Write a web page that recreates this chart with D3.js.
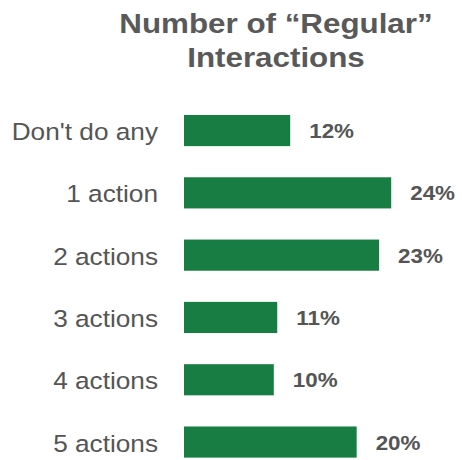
<!DOCTYPE html>
<html>
<head>
<meta charset="utf-8">
<script src="https://cdn.jsdelivr.net/npm/d3@7"></script>
<style>
  body { margin: 0; background: #fff; }
  text { font-family: "Liberation Sans", Arial, Helvetica, sans-serif; }
</style>
</head>
<body>
<script>
var w = 462;
var h = 460;

var titleLines = ["Number of \u201cRegular\u201d", "Interactions"];
var categories = ["Don't do any", "1 action", "2 actions", "3 actions", "4 actions", "5 actions"];
var values = [12.3, 24.0, 22.6, 10.8, 10.4, 20.0];

var barColor = "#177d42";
var textColor = "#555555";

var svg = d3.select("body")
    .append("svg")
    .attr("width", w)
    .attr("height", h);

var xScale = d3.scaleLinear()
    .domain([0, 30])
    .range([184, 443]);

var yScale = d3.scaleBand()
    .domain(categories)
    .range([99.4, 473.2])
    .paddingInner(0.5)
    .paddingOuter(0.25);

// title, text looks slightly wide in the original so stretch it a bit
svg.selectAll(".title")
    .data(titleLines)
    .enter()
    .append("text")
    .attr("class", "title")
    .attr("transform", function(d, i) {
        return "translate(276," + (32.5 + i * 34.7) + ") scale(1.1,1)";
    })
    .attr("text-anchor", "middle")
    .attr("font-size", 28.5)
    .attr("font-weight", "bold")
    .attr("fill", "#595959")
    .text(function(d) { return d; });

svg.selectAll(".bar")
    .data(values)
    .enter()
    .append("rect")
    .attr("class", "bar")
    .attr("x", xScale(0))
    .attr("y", function(d, i) { return yScale(categories[i]); })
    .attr("width", function(d) { return xScale(d) - xScale(0); })
    .attr("height", yScale.bandwidth())
    .attr("fill", barColor);

// category labels
svg.selectAll(".cat")
    .data(categories)
    .enter()
    .append("text")
    .attr("class", "cat")
    .attr("transform", function(d) {
        var y = yScale(d) + yScale.bandwidth() / 2 + 9.5;
        return "translate(158," + y + ") scale(1.07,1)";
    })
    .attr("text-anchor", "end")
    .attr("font-size", 24.5)
    .attr("fill", textColor)
    .text(function(d) { return d; });

// value labels
svg.selectAll(".val")
    .data(values)
    .enter()
    .append("text")
    .attr("class", "val")
    .attr("transform", function(d, i) {
        var y = yScale(categories[i]) + yScale.bandwidth() / 2 + 7.5;
        return "translate(" + (xScale(d) + 19) + "," + y + ") scale(1.12,1)";
    })
    .attr("font-size", 20)
    .attr("font-weight", "bold")
    .attr("fill", textColor)
    .text(function(d) { return Math.round(d) + "%"; });
</script>
</body>
</html>
